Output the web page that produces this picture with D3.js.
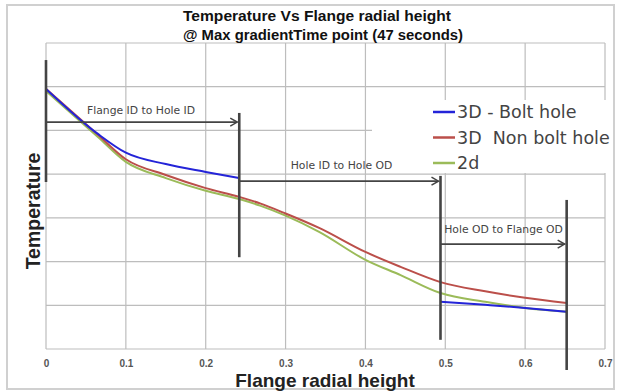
<!DOCTYPE html>
<html><head><meta charset="utf-8">
<script src="https://cdn.jsdelivr.net/npm/d3@7"></script>
<style>html,body{margin:0;padding:0;background:#fff;}svg{display:block;}</style>
</head><body>
<svg id="c" width="620" height="391"></svg>
<script>
// ---- data ----
const titleLines = ["Temperature Vs Flange radial height", "@ Max gradientTime point (47 seconds)"];
const xTicks = [0, 0.1, 0.2, 0.3, 0.4, 0.5, 0.6, 0.7];
const yGrid = [0, 1, 2, 3, 4, 5, 6, 7];
const seriesNames = ["3D - Bolt hole", "3D  Non bolt hole", "2d"];
const boltX    = [0, 0.065, 0.1, 0.15, 0.2, 0.242, null, 0.494, 0.55, 0.6, 0.652];
const boltY    = [5.95, 4.92, 4.49, 4.23, 4.05, 3.91, null, 1.08, 1.01, 0.94, 0.85];
const nonBoltX = [0, 0.065, 0.1, 0.15, 0.2, 0.242, 0.268, 0.3, 0.342, 0.4, 0.444, 0.494, 0.55, 0.6, 0.652];
const nonBoltY = [5.95, 4.90, 4.34, 3.98, 3.68, 3.48, 3.33, 3.10, 2.77, 2.22, 1.88, 1.53, 1.32, 1.17, 1.05];
const twoDX    = [0, 0.065, 0.1, 0.15, 0.2, 0.242, 0.268, 0.3, 0.342, 0.4, 0.444, 0.494, 0.55, 0.6, 0.652];
const twoDY    = [5.90, 4.85, 4.28, 3.91, 3.62, 3.43, 3.28, 3.05, 2.68, 2.04, 1.69, 1.28, 1.08, 0.94, 0.85];
const regionLabels = ["Flange ID to Hole ID", "Hole ID to Hole OD", "Hole OD to Flange OD"];
const regionStart = [0, 0.242, 0.494];
const regionEnd   = [0.242, 0.494, 0.652];
const regionArrowY = [5.19, 3.84, 2.40];
const markerX   = [0, 0.242, 0.494, 0.652];
const markerTop = [6.61, 5.40, 3.96, 3.41];
const markerBot = [3.82, 2.10, 0.21, -0.48];
const labelX = [0.119, 0.37, 0.573];
const labelY = [5.38, 4.12, 2.65];

// ---- drawing ----
const svg = d3.select("#c");
const colors = ["#2424d8", "#bb4f4a", "#9bbb59"];
const x = d3.scaleLinear().domain([0, 0.7]).range([46, 605]);
const y = d3.scaleLinear().domain([0, 7]).range([349, 43]);
const font = "'Liberation Sans', Arial, sans-serif";
const dv = "'DejaVu Sans', Verdana, sans-serif";

// outer frame
svg.append("rect").attr("x", 7).attr("y", 5).attr("width", 607).attr("height", 384)
  .attr("fill", "#fff").attr("stroke", "#d0d0d0").attr("stroke-width", 2);

// grid
const g = svg.append("g");
g.selectAll(".hg").data(yGrid).join("line")
  .attr("x1", x(0)).attr("x2", x(0.7)).attr("y1", d => y(d)).attr("y2", d => y(d))
  .attr("stroke", "#bdbdbd").attr("stroke-width", 1.2);
g.selectAll(".vg").data(xTicks).join("line")
  .attr("x1", d => x(d)).attr("x2", d => x(d)).attr("y1", y(0)).attr("y2", y(7))
  .attr("stroke", "#bdbdbd").attr("stroke-width", 1.2);

// x axis tick labels via d3 axis
const xAxis = d3.axisBottom(x).tickValues(xTicks).tickSize(0).tickPadding(0)
  .tickFormat(d => d === 0 ? "0" : d3.format(".1f")(d));
const ax = svg.append("g").attr("transform", `translate(0,${y(0) + 11})`).call(xAxis);
ax.select(".domain").remove();
ax.selectAll("text").attr("font-family", font).attr("font-size", 10).attr("font-weight", "bold")
  .attr("fill", "#555").attr("dy", "0.71em");

// title
const title = svg.append("g");
const tW = [268, 280];
titleLines.forEach((t, i) => {
  title.append("text").attr("x", i === 0 ? 317 : 323).attr("y", i === 0 ? 21 : 40)
    .attr("text-anchor", "middle").attr("font-family", font).attr("font-weight", "bold")
    .attr("font-size", 14.5).attr("textLength", tW[i]).attr("lengthAdjust", "spacingAndGlyphs")
    .attr("fill", "#111").text(t);
});

// legend box (covers grid)
svg.append("rect").attr("x", 372).attr("y", 100).attr("width", 240).attr("height", 73).attr("fill", "#fff");

// series
const series = [
  {xs: boltX, ys: boltY},
  {xs: nonBoltX, ys: nonBoltY},
  {xs: twoDX, ys: twoDY}
];
const line = d3.line().defined(d => d[0] !== null).x(d => x(d[0])).y(d => y(d[1])).curve(d3.curveMonotoneX);
const drawOrder = [2, 1, 0];
drawOrder.forEach(i => {
  const s = series[i];
  const pts = s.xs.map((v, k) => [v, s.ys[k]]);
  svg.append("path").attr("d", line(pts)).attr("fill", "none")
    .attr("stroke", colors[i]).attr("stroke-width", 2);
});

// annotations
const ann = svg.append("g");
const annColor = "#444";
ann.selectAll(".mk").data(markerX).join("line")
  .attr("x1", d => x(d)).attr("x2", d => x(d))
  .attr("y1", (d, i) => y(markerTop[i])).attr("y2", (d, i) => y(markerBot[i]))
  .attr("stroke", annColor).attr("stroke-width", 2.6);
regionLabels.forEach((lab, i) => {
  const x0 = x(regionStart[i]), x1 = x(regionEnd[i]) - 2, yy = y(regionArrowY[i]);
  ann.append("line").attr("x1", x0).attr("x2", x1).attr("y1", yy).attr("y2", yy)
    .attr("stroke", annColor).attr("stroke-width", 1.8);
  ann.append("path").attr("d", `M${x1 - 7},${yy - 4} L${x1},${yy} L${x1 - 7},${yy + 4}`)
    .attr("fill", "none").attr("stroke", annColor).attr("stroke-width", 1.5);
  ann.append("text").attr("x", x(labelX[i])).attr("y", y(labelY[i])).attr("text-anchor", "middle")
    .attr("font-family", dv).attr("font-size", 10.8)
    .attr("fill", "#444").text(lab);
});

// legend
const lg = svg.append("g");
seriesNames.forEach((n, i) => {
  const yy = 112 + i * 25.5;
  lg.append("line").attr("x1", 433).attr("x2", 455).attr("y1", yy).attr("y2", yy)
    .attr("stroke", colors[i]).attr("stroke-width", 2.5);
  lg.append("text").attr("x", 457).attr("y", yy + 6).attr("font-family", dv)
    .attr("xml:space", "preserve").style("white-space", "pre")
    .attr("font-size", 17.5).attr("fill", "#444").text(n);
});

// axis titles
svg.append("text").attr("x", 325).attr("y", 387).attr("text-anchor", "middle")
  .attr("font-family", font).attr("font-weight", "bold").attr("font-size", 19).attr("fill", "#222")
  .text("Flange radial height");
svg.append("text").attr("transform", "translate(40,211) rotate(-90)").attr("text-anchor", "middle")
  .attr("font-family", font).attr("font-weight", "bold").attr("font-size", 19.5).attr("fill", "#222")
  .text("Temperature");
</script>
</body></html>
